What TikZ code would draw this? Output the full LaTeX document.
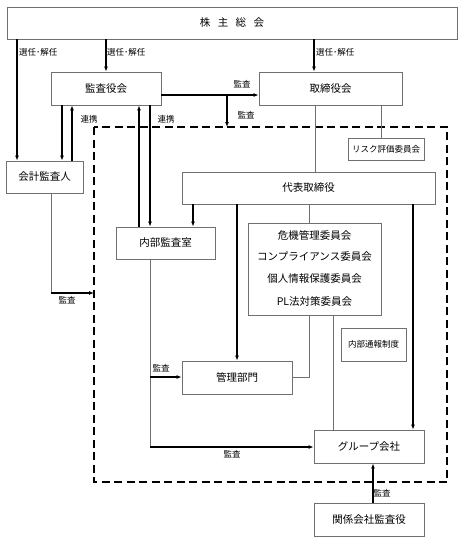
\documentclass[tikz,border=0pt]{standalone}
\usepackage{fontspec}
\setmainfont{Noto Sans CJK JP}
\usetikzlibrary{arrows.meta}
\definecolor{boxgray}{HTML}{707070}
\tikzset{
  box/.style={draw=boxgray, line width=0.8pt, inner sep=0pt, font=\fontsize{10.5}{12}\selectfont},
  smallbox/.style={draw=boxgray, line width=0.8pt, inner sep=0pt, font=\fontsize{8.5}{10}\selectfont},
  lbl/.style={inner sep=0pt, font=\fontsize{8.5}{10}\selectfont},
  arr/.style={line width=1.1pt, -{Latex[length=5pt,width=4pt]}},
  gline/.style={draw=boxgray, line width=0.8pt},
  dashbox/.style={line width=1.8pt, dash pattern=on 8pt off 4.5pt}
}
\begin{document}
\begin{tikzpicture}[x=1pt,y=-1pt]
\useasboundingbox (0,0) rectangle (465,544);
% nodes
\node[box, minimum width=450pt, minimum height=32pt] (sh) at (232,23) {株\hspace{0.7em}主\hspace{0.7em}総\hspace{0.7em}会};
\node[box, minimum width=110pt, minimum height=33pt] (kansa) at (106,88.5) {監査役会};
\node[box, minimum width=143pt, minimum height=33pt] (tori) at (330.5,88.5) {取締役会};
\node[box, minimum width=77pt, minimum height=32pt] (kaikei) at (44.5,177) {会計監査人};
\node[box, minimum width=99pt, minimum height=32pt] (naibu) at (165.5,243) {内部監査室};
\node[box, minimum width=253pt, minimum height=32pt] (daihyo) at (308.5,188) {代表取締役};
\node[smallbox, minimum width=76pt, minimum height=22pt] (risk) at (386,149) {リスク評価委員会};
\node[box, minimum width=133pt, minimum height=92pt, align=center] (comm) at (314.5,269) {};
\node[lbl, font=\fontsize{10.5}{12}\selectfont] (c1) at (314.5,236) {危機管理委員会};
\node[lbl, font=\fontsize{10.5}{12}\selectfont] (c2) at (314.5,257) {コンプライアンス委員会};
\node[lbl, font=\fontsize{10.5}{12}\selectfont] (c3) at (314.5,279) {個人情報保護委員会};
\node[lbl, font=\fontsize{10.5}{12}\selectfont] (c4) at (314.5,301) {PL法対策委員会};
\node[smallbox, minimum width=65pt, minimum height=33pt] (tsuho) at (373.5,344.5) {内部通報制度};
\node[box, minimum width=110pt, minimum height=33pt] (kanri) at (237,377.5) {管理部門};
\node[box, minimum width=110pt, minimum height=33pt] (group) at (369,446.5) {グループ会社};
\node[box, minimum width=110pt, minimum height=33pt] (kankei) at (369,519.5) {関係会社監査役};
% helper coordinates
\coordinate (x17) at (17,0);
\coordinate (x62) at (62,0);
\coordinate (x72) at (72,0);
\coordinate (x139) at (139,0);
\coordinate (x150) at (150,0);
\coordinate (x193) at (193,0);
\coordinate (x237) at (237,0);
\coordinate (x309) at (309,0);
\coordinate (x314) at (314,0);
\coordinate (x315) at (315,0);
\coordinate (x333) at (333,0);
\coordinate (x373) at (373,0);
\coordinate (x381) at (381,0);
\coordinate (x413) at (413,0);
\coordinate (y95) at (0,95);
\coordinate (ka) at (227,95);
\coordinate (kb) at (227,127);
\coordinate (kc1) at (51,293);
\coordinate (kc2) at (94,293);
\coordinate (nb) at (150,447);
\coordinate (nk) at (150,377);
\coordinate (cm) at (309,377);
% dashed region
\draw[dashbox] (94,127) rectangle (447,482);
% connectors
\draw[arr] (sh.south -| x17) -- (kaikei.north -| x17);
\draw[arr] (sh.south -| kansa.north) -- (kansa.north);
\draw[arr] (sh.south -| x314) -- (tori.north -| x314);
\draw[arr] (kansa.east |- y95) -- (tori.west |- y95);
\draw[arr] (ka) -- (kb);
\draw[arr] (kansa.south -| x62) -- (kaikei.north -| x62);
\draw[arr] (kaikei.north -| x72) -- (kansa.south -| x72);
\draw[arr] (naibu.north -| x139) -- (kansa.south -| x139);
\draw[arr] (kansa.south -| x150) -- (naibu.north -| x150);
\draw[gline] (tori.south -| x315) -- (daihyo.north -| x315);
\draw[gline] (tori.south -| x381) -- (risk.north -| x381);
\draw[arr] (daihyo.south -| x193) -- (naibu.north -| x193);
\draw[arr] (daihyo.south -| x237) -- (kanri.north -| x237);
\draw[gline] (daihyo.south -| x309) -- (comm.north -| x309);
\draw[arr] (daihyo.south -| x413) -- (group.north -| x413);
\draw[gline] (comm.south -| x309) -- (cm) -- (kanri.east |- cm);
\draw[gline] (comm.south -| x333) -- (group.north -| x333);
\draw[gline] (kaikei.south -| kc1) -- (kc1);
\draw[arr] (kc1) -- (kc2);
\draw[gline] (naibu.south -| x150) -- (nb);
\draw[arr] (nb) -- (group.west |- nb);
\draw[arr] (nk) -- (kanri.west |- nk);
\draw[arr] (kankei.north -| x373) -- (group.south -| x373);
% labels
\node[lbl, anchor=west] (l1) at (19,52) {選任･解任};
\node[lbl, anchor=west] (l2) at (107,52) {選任･解任};
\node[lbl, anchor=west] (l3) at (316,52) {選任･解任};
\node[lbl] (l4) at (242,84) {監査};
\node[lbl] (l5) at (246,115) {監査};
\node[lbl] (l6) at (89,119) {連携};
\node[lbl] (l7) at (166,119) {連携};
\node[lbl] (l8) at (67,300) {監査};
\node[lbl] (l9) at (161,368) {監査};
\node[lbl] (l10) at (232,454) {監査};
\node[lbl] (l11) at (382,493) {監査};
\end{tikzpicture}
\end{document}
